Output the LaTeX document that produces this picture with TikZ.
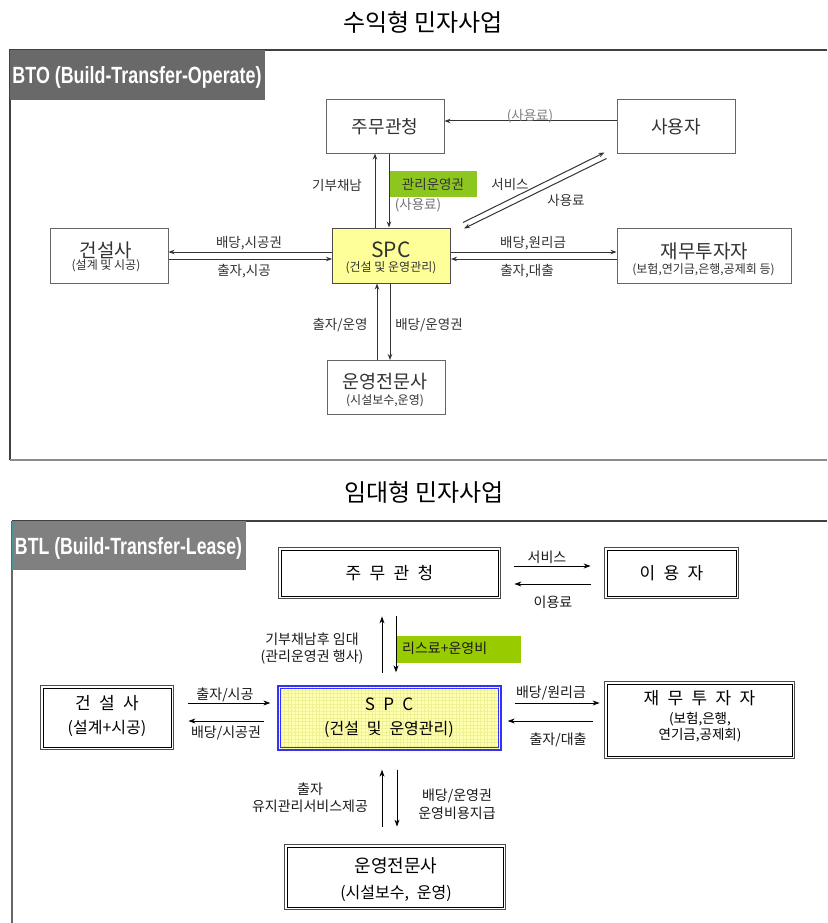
\documentclass[tikz,border=0pt]{standalone}
\usepackage{fontspec}
\usepackage{graphicx}
\setmainfont{Noto Sans CJK KR}
\newfontfamily\kow{Noto Sans CJK KR}[WordSpace=2.2]
\newfontfamily\latb{Liberation Sans}
\usetikzlibrary{arrows.meta,calc}
\definecolor{topgreen}{RGB}{141,198,31}
\definecolor{botgreen}{RGB}{153,204,0}
\definecolor{spcyellow}{RGB}{255,255,153}
\definecolor{spcfill}{RGB}{255,255,176}
\definecolor{spcgrid}{RGB}{240,240,150}
\definecolor{spcblue}{RGB}{50,50,240}
\definecolor{ttext}{RGB}{50,50,50}
\definecolor{tgray}{RGB}{105,105,105}
\definecolor{bgray}{RGB}{128,128,128}
\definecolor{teal2}{RGB}{70,150,150}
\newcommand{\fs}[1]{\fontsize{#1}{#1}\selectfont}
\begin{document}
\begin{tikzpicture}[x=1pt,y=-1pt,
  tbox/.style={draw=black!60, line width=1pt, fill=white, inner sep=0pt, text=ttext},
  bbox/.style={draw=black!70, line width=1.8pt, fill=white, inner sep=0pt,
    path picture={\draw[black, line width=0.6pt] ([shift={(2.6pt,2.6pt)}]path picture bounding box.south west) rectangle ([shift={(-2.6pt,-2.6pt)}]path picture bounding box.north east);}},
  spcbox/.style={draw=spcblue, line width=1.3pt, fill=spcfill, inner sep=0pt,
    path picture={\draw[spcgrid, line width=0.3pt, step=3.5pt] (path picture bounding box.south west) grid (path picture bounding box.north east);
      \draw[spcblue, line width=0.6pt] ([shift={(2.4pt,2.4pt)}]path picture bounding box.south west) rectangle ([shift={(-2.4pt,-2.4pt)}]path picture bounding box.north east);}},
  tarr/.style={draw=black!80, line width=1pt, -{Stealth[length=6pt,width=4.5pt]}},
  barr/.style={draw=black, line width=0.8pt, -{Stealth[length=7pt,width=5pt]}},
  tlab/.style={inner sep=0pt, text=ttext, font=\fs{13.5}},
  blab/.style={inner sep=0pt, text=black!90, font=\fs{14}},
  ttl/.style={inner sep=0pt, text=black, font=\fs{24}}
]
\useasboundingbox (0,0) rectangle (827,923);

% ---------- titles ----------
\node[ttl] (title1) at (423,22) {수익형 민자사업};
\node[ttl] (title2) at (424,492) {임대형 민자사업};

% ---------- top frame ----------
\draw[black!75, line width=1.5pt] (827,50) -- (10,50) -- (10,460);
\draw[black!45, line width=2.5pt] (10,460) -- (827,460);
\fill[tgray] (10,50) rectangle (265,100);
\node[inner sep=0pt, text=white] (bto) at (137,77) {\resizebox{249pt}{17pt}{\latb\bfseries BTO (Build-Transfer-Operate)}};

% ---------- bottom frame ----------
\draw[black!75, line width=1.5pt] (827,521) -- (12,521);
\draw[black!60, line width=1.2pt] (12,521) -- (12,923);
\draw[teal2, line width=0.8pt, fill=bgray] (12,521) rectangle (245,569);
\node[inner sep=0pt, text=white] (btl) at (128.5,548) {\resizebox{227pt}{17pt}{\latb\bfseries BTL (Build-Transfer-Lease)}};

% ---------- top green ----------
\node[fill=topgreen, minimum width=88pt, minimum height=26pt, inner sep=0pt, text=black!80, font=\fs{13.5}] (gt) at (433,184) {관리운영권};

% ---------- top nodes ----------
\node[tbox, minimum width=118pt, minimum height=53pt, font=\fs{18}] (tZ) at (385,126.5) {주무관청};
\node[tbox, minimum width=118pt, minimum height=53pt, font=\fs{18}] (tU) at (676,126.5) {사용자};
\node[tbox, minimum width=118pt, minimum height=55pt] (tG) at (109,255.5) {};
\node[tbox, fill=spcyellow, draw=black!70, minimum width=118pt, minimum height=55pt] (tS) at (391.5,255.5) {};
\node[tbox, minimum width=174pt, minimum height=55pt] (tF) at (704,255.5) {};
\node[tbox, minimum width=118pt, minimum height=54pt] (tO) at (386,387.5) {};

\node[inner sep=0pt, text=ttext, font=\fs{19}] (tGa) at (106,250) {건설사};
\node[inner sep=0pt, text=ttext, font=\fs{12}] (tGb) at (106,266) {(설계 및 시공)};
\node[inner sep=0pt, text=ttext, font=\fs{21}] (tSa) at (391,250) {SPC};
\node[inner sep=0pt, text=ttext, font=\fs{12}] (tSb) at (391,268) {(건설 및 운영관리)};
\node[inner sep=0pt, text=ttext, font=\fs{19}] (tFa) at (704.5,251) {재무투자자};
\node[inner sep=0pt, text=ttext, font=\fs{12}] (tFb) at (703.5,270) {(보험,연기금,은행,공제회 등)};
\node[inner sep=0pt, text=ttext, font=\fs{18.5}] (tOa) at (385,382) {운영전문사};
\node[inner sep=0pt, text=ttext, font=\fs{12}] (tOb) at (385,401) {(시설보수,운영)};

% ---------- top arrows ----------
\coordinate (a1) at ([xshift=-16.5pt]tS.north);
\draw[tarr] (a1) -- (a1 |- tZ.south);
\coordinate (a2) at ([xshift=-2.5pt]tS.north);
\draw[tarr] (a2 |- tZ.south) -- (a2);
\coordinate (a3) at ([xshift=-14.5pt]tS.south);
\draw[tarr] (a3 |- tO.north) -- (a3);
\coordinate (a4) at ([xshift=-1.5pt]tS.south);
\draw[tarr] (a4) -- (a4 |- tO.north);
\coordinate (h1) at ([yshift=3.5pt]tS.west);
\draw[tarr] (h1) -- (h1 -| tG.east);
\coordinate (h2) at ([yshift=-3.5pt]tG.east);
\draw[tarr] (h2) -- (h2 -| tS.west);
\coordinate (h3) at ([yshift=3.5pt]tS.east);
\draw[tarr] (h3) -- (h3 -| tF.west);
\coordinate (h4) at ([yshift=-3.5pt]tF.west);
\draw[tarr] (h4) -- (h4 -| tS.east);
\coordinate (h5) at ([yshift=5.5pt]tU.west);
\draw[tarr] (h5) -- (h5 -| tZ.east);
\draw[tarr] ($(tS.north east)+(12,-5)$) -- ($(tU.south west)+(-12,-1)$);
\draw[tarr] ($(tU.south west)+(-10,5)$) -- ($(tS.north east)+(13,1)$);

% ---------- top labels ----------
\node[tlab, text=black!50] (l1) at (530,116) {(사용료)};
\node[tlab] (l2) at (337,185) {기부채남};
\node[tlab, text=black!55] (l3) at (418,205) {(사용료)};
\node[tlab] (l4) at (510,184) {서비스};
\node[tlab] (l5) at (566,200) {사용료};
\node[tlab] (l6) at (249,243) {배당,시공권};
\node[tlab] (l7) at (244,271) {출자,시공};
\node[tlab] (l8) at (533,243) {배당,원리금};
\node[tlab] (l9) at (527,271) {출자,대출};
\node[tlab] (l10) at (340,325) {출자/운영};
\node[tlab] (l11) at (429,325) {배당/운영권};

% ---------- bottom green ----------
\node[fill=botgreen, minimum width=125pt, minimum height=27pt, inner sep=0pt, anchor=west] (gb) at (396,649.5) {};

% ---------- bottom nodes ----------
\node[bbox, minimum width=222pt, minimum height=51pt, font=\kow\fs{17}] (bZ) at (389.5,573) {주 무 관 청};
\node[bbox, minimum width=134pt, minimum height=51pt, font=\kow\fs{17}] (bU) at (671.5,573) {이 용 자};
\node[spcbox, minimum width=223pt, minimum height=64pt] (bS) at (389.5,718) {};
\node[bbox, minimum width=133pt, minimum height=64pt] (bG) at (107,717.5) {};
\node[bbox, minimum width=190pt, minimum height=77pt] (bF) at (699.5,720) {};
\node[bbox, minimum width=221pt, minimum height=65pt] (bO) at (395,877) {};

\node[inner sep=0pt, font=\kow\fs{17}] (bSa) at (389,704) {S P C};
\node[inner sep=0pt, font=\kow\fs{16}] (bSb) at (389,729) {(건설 및 운영관리)};
\node[inner sep=0pt, font=\kow\fs{17}] (bGa) at (107,703) {건 설 사};
\node[inner sep=0pt, font=\kow\fs{16}] (bGb) at (107,728) {(설계+시공)};
\node[inner sep=0pt, font=\kow\fs{17}] (bFa) at (699.5,698) {재 무 투 자 자};
\node[inner sep=0pt, font=\fs{13.5}] (bFb) at (700,719) {(보험,은행,};
\node[inner sep=0pt, font=\fs{13.5}] (bFc) at (700,735) {연기금,공제회)};
\node[inner sep=0pt, font=\fs{18}] (bOa) at (396,866) {운영전문사};
\node[inner sep=0pt, font=\kow\fs{16}] (bOb) at (396,893) {(시설보수, 운영)};

% ---------- bottom arrows ----------
\coordinate (b1) at ([yshift=7pt]bZ.east);
\draw[barr, shorten <=13pt, shorten >=13pt] (b1) -- (b1 -| bU.west);
\coordinate (b2) at ([yshift=-11pt]bU.west);
\draw[barr, shorten <=13pt, shorten >=13pt] (b2) -- (b2 -| bZ.east);
\coordinate (b3) at ([xshift=-7.5pt]bS.north);
\draw[barr, shorten <=12pt, shorten >=17pt] (b3) -- (b3 |- bZ.south);
\coordinate (b4) at ([xshift=6.5pt]bZ.south);
\draw[barr, shorten <=17pt, shorten >=13pt] (b4) -- (b4 |- bS.north);
\coordinate (b5) at ([yshift=14.5pt]bG.east);
\draw[barr, shorten <=14pt, shorten >=7pt] (b5) -- (b5 -| bS.west);
\coordinate (b6) at ([yshift=-3.5pt]bG.east);
\draw[barr, shorten <=13pt, shorten >=14pt] (b6 -| bS.west) -- (b6);
\coordinate (b7) at ([yshift=15pt]bS.east);
\draw[barr, shorten <=13pt, shorten >=4pt] (b7) -- (b7 -| bF.west);
\coordinate (b8) at ([yshift=-3pt]bS.east);
\draw[barr, shorten <=11pt, shorten >=6pt] (b8 -| bF.west) -- (b8);
\coordinate (b9) at ([xshift=-13pt]bO.north);
\draw[barr, shorten <=17pt, shorten >=19pt] (b9) -- (b9 |- bS.south);
\coordinate (b10) at ([xshift=2pt]bO.north);
\draw[barr, shorten <=19pt, shorten >=17pt] (b10 |- bS.south) -- (b10);

% ---------- bottom labels ----------
\node[blab] (m1) at (547,557) {서비스};
\node[blab] (m2) at (553,602) {이용료};
\node[blab] (m3) at (312,639) {기부채남후 임대};
\node[blab] (m4) at (312,657) {(관리운영권 행사)};
\node[blab, anchor=west] (m5) at (402,648) {리스료+운영비};
\node[blab] (m6) at (225,695) {출자/시공};
\node[blab] (m7) at (226,733) {배당/시공권};
\node[blab] (m8) at (551,693) {배당/원리금};
\node[blab] (m9) at (558,740) {출자/대출};
\node[blab] (m10) at (310,789) {출자};
\node[blab] (m11) at (310,806) {유지관리서비스제공};
\node[blab] (m12) at (457,796) {배당/운영권};
\node[blab] (m13) at (457,813) {운영비용지급};
\end{tikzpicture}
\end{document}
